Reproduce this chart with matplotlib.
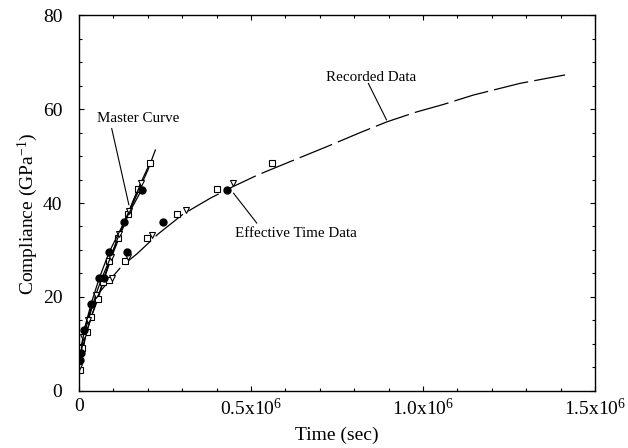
import matplotlib
matplotlib.use("Agg")
import matplotlib.pyplot as plt
from matplotlib.ticker import MultipleLocator, FixedLocator, FixedFormatter

plt.rcParams['font.family'] = ['Liberation Serif', 'DejaVu Serif']
plt.rcParams['mathtext.fontset'] = 'custom'
plt.rcParams['mathtext.rm'] = 'Liberation Serif'
plt.rcParams['mathtext.it'] = 'Liberation Serif:italic'
plt.rcParams['mathtext.bf'] = 'Liberation Serif:bold'

# Time values in units of 1e6 s, compliance in 1/GPa
master_sq_t = [0.002, 0.010, 0.022, 0.036, 0.055, 0.070, 0.088, 0.113, 0.142, 0.171, 0.206]
master_sq_c = [4.5, 9.0, 12.5, 15.8, 19.5, 23.2, 27.7, 32.5, 37.7, 42.9, 48.5]
master_tri_t = [0.001, 0.012, 0.027, 0.049, 0.067, 0.093, 0.117, 0.146, 0.180]
master_tri_c = [5.0, 11.5, 15.0, 20.5, 24.1, 28.6, 33.4, 38.4, 44.2]
master_cir_t = [0.003, 0.006, 0.015, 0.035, 0.059, 0.088, 0.132, 0.182]
master_cir_c = [6.5, 8.0, 12.9, 18.5, 24.0, 29.6, 36.0, 42.8]
master_fit_t = [0.0, 0.02, 0.05, 0.10, 0.15, 0.20, 0.222]
master_fit_c = [4.0, 12.0, 19.0, 29.5, 38.8, 47.0, 51.3]

eff_sq_t = [0.088, 0.134, 0.197, 0.284, 0.400, 0.560]
eff_sq_c = [23.5, 27.7, 32.5, 37.7, 42.9, 48.5]
eff_tri_t = [0.095, 0.141, 0.212, 0.311, 0.449]
eff_tri_c = [24.1, 28.6, 33.2, 38.5, 44.2]
eff_cir_t = [0.073, 0.139, 0.245, 0.430]
eff_cir_c = [24.0, 29.6, 36.0, 42.8]

recorded_t = [0.0, 0.004, 0.015, 0.035, 0.060, 0.088, 0.125, 0.169, 0.230, 0.302,
              0.381, 0.448, 0.520, 0.613, 0.720, 0.817, 0.895, 0.981, 1.059,
              1.146, 1.282, 1.413]
recorded_c = [3.5, 8.0, 13.0, 17.5, 21.0, 23.5, 26.6, 29.2, 33.4, 37.6,
              41.0, 43.5, 46.0, 48.8, 52.0, 55.0, 57.3, 59.4, 61.0,
              63.0, 65.5, 67.3]

x_tick_vals = [0, 0.5, 1.0, 1.5]
x_tick_labels = ['0', r'0.5x10$^6$', r'1.0x10$^6$', r'1.5x10$^6$']
y_tick_vals = [0, 20, 40, 60, 80]

fig = plt.figure(figsize=(6.28, 4.48), dpi=100)
ax = fig.add_axes([0.1258, 0.1279, 0.8217, 0.8379])

# recorded long-term creep curve
ax.plot(recorded_t, recorded_c, color='black', lw=0.9, dashes=(28, 5))

# momentary master curves
ax.plot(master_fit_t, master_fit_c, color='black', lw=0.9)
ax.plot(master_sq_t, master_sq_c, color='black', lw=0.9, marker='s', ms=4.5,
        mfc='white', mec='black', mew=0.8)
ax.plot(master_tri_t, master_tri_c, color='black', lw=0.9, marker='v', ms=5,
        mfc='white', mec='black', mew=0.8)
ax.plot(master_cir_t, master_cir_c, color='black', lw=0.9, marker='o', ms=5,
        mfc='black', mec='black')

# effective time data
ax.plot(eff_sq_t, eff_sq_c, ls='none', marker='s', ms=4.5, mfc='white', mec='black', mew=0.8)
ax.plot(eff_tri_t, eff_tri_c, ls='none', marker='v', ms=5, mfc='white', mec='black', mew=0.8)
ax.plot(eff_cir_t, eff_cir_c, ls='none', marker='o', ms=5, mfc='black', mec='black')

ax.set_xlim(0, 1.5)
ax.set_ylim(0, 80)
ax.xaxis.set_major_locator(FixedLocator(x_tick_vals))
ax.xaxis.set_major_formatter(FixedFormatter(x_tick_labels))
ax.xaxis.set_minor_locator(MultipleLocator(0.1))
ax.yaxis.set_major_locator(FixedLocator(y_tick_vals))
ax.yaxis.set_minor_locator(MultipleLocator(5))
ax.tick_params(which='both', direction='in', top=True, right=True, labelsize=14, width=0.8)
ax.tick_params(which='major', length=3.5)
ax.tick_params(which='minor', length=2.5)
ax.tick_params(axis='x', which='major', pad=5)
ax.tick_params(axis='y', which='major', pad=12)
for s in ax.spines.values():
    s.set_linewidth(1.0)

ax.set_xlabel('Time (sec)', fontsize=14)
ax.xaxis.set_label_coords(0.5, -0.097)
ax.set_ylabel(r'Compliance (GPa$^{-1}$)', fontsize=14)
ax.yaxis.set_label_coords(-0.076, 0.47)

# callouts
line_kw = dict(arrowstyle='-', lw=0.8, color='black', shrinkA=0, shrinkB=0)
ax.text(0.171, 58.1, 'Master Curve', fontsize=10.8, ha='center', va='center')
ax.annotate('', xy=(0.145, 39.6), xytext=(0.095, 55.9), arrowprops=line_kw)
ax.text(0.849, 66.8, 'Recorded Data', fontsize=10.8, ha='center', va='center')
ax.annotate('', xy=(0.894, 57.7), xytext=(0.841, 65.5), arrowprops=line_kw)
ax.text(0.631, 33.4, 'Effective Time Data', fontsize=10.8, ha='center', va='center')
ax.annotate('', xy=(0.517, 35.7), xytext=(0.449, 42.1), arrowprops=line_kw)

fig.savefig('out.png', dpi=100)
